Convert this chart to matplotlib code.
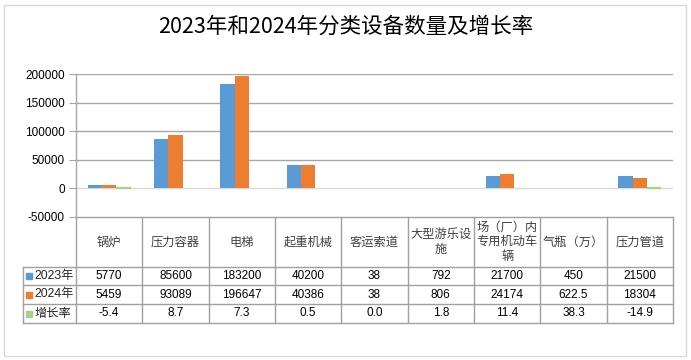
import matplotlib.pyplot as plt
import matplotlib.transforms as mtransforms
from matplotlib.patches import Rectangle
import numpy as np

categories = ["锅炉", "压力容器", "电梯", "起重机械", "客运索道",
              "大型游乐设\n施", "场（厂）内\n专用机动车\n辆", "气瓶（万）", "压力管道"]
v2023 = [5770, 85600, 183200, 40200, 38, 792, 21700, 450, 21500]
v2024 = [5459, 93089, 196647, 40386, 38, 806, 24174, 622.5, 18304]
growth = [-5.4, 8.7, 7.3, 0.5, 0.0, 1.8, 11.4, 38.3, -14.9]
txt2023 = ["5770", "85600", "183200", "40200", "38", "792", "21700", "450", "21500"]
txt2024 = ["5459", "93089", "196647", "40386", "38", "806", "24174", "622.5", "18304"]
txtgrowth = ["-5.4", "8.7", "7.3", "0.5", "0.0", "1.8", "11.4", "38.3", "-14.9"]
series_names = ["2023年", "2024年", "增长率"]
colors = ["#5B9BD5", "#ED7D31", "#A9D08E"]
yticks = [-50000, 0, 50000, 100000, 150000, 200000]

W, H = 691, 360
num_font = ["Liberation Sans", "Noto Sans CJK SC"]
cjk_font = ["Noto Sans CJK SC", "DejaVu Sans"]

fig = plt.figure(figsize=(W / 100, H / 100), dpi=100)
fig.patch.set_facecolor("white")

# outer border of the chart
fig.patches.append(Rectangle((4 / W, 4 / H), 682 / W, 351 / H, transform=fig.transFigure,
                             fill=False, edgecolor="#d9d9d9", linewidth=1))

# plot area in pixel coords
x_left, x_right = 76, 673
y_top, y_bot = 74.3, 216.7
ax = fig.add_axes([x_left / W, (H - y_bot) / H, (x_right - x_left) / W, (y_bot - y_top) / H])

n = len(categories)
x = np.arange(n)
bw = 0.216
ax.bar(x - bw, v2023, bw, color=colors[0], zorder=3, linewidth=0)
ax.bar(x, v2024, bw, color=colors[1], zorder=3, linewidth=0)
# growth is tiny on this scale, only the negative ones show as a thin line
ax.bar(x + bw, growth, bw, color=colors[2], zorder=3, linewidth=1.6,
       edgecolor=[colors[2] if g < 0 else "none" for g in growth])

ax.set_xlim(-0.5, n - 0.5)
ax.set_ylim(-50000, 200000)
ax.set_yticks(yticks)
ax.set_yticklabels([str(v) for v in yticks], fontfamily=num_font, fontsize=8.5)
ax.tick_params(axis="y", length=5, color="#a6a6a6", pad=3)
ax.set_xticks([])
for y in yticks[2:]:
    ax.axhline(y, color="#a6a6a6", linewidth=1, zorder=1)
ax.axhline(0, color="#d9d9d9", linewidth=1, zorder=2)
for s in ["top", "right", "bottom"]:
    ax.spines[s].set_visible(False)
ax.spines["left"].set_color("#a6a6a6")
ax.spines["left"].set_linewidth(1)

# data table below the plot
tr = mtransforms.blended_transform_factory(ax.transData, fig.transFigure)
def fy(p):
    return (H - p) / H

line_kw = dict(color="#a0a0a0", linewidth=1, transform=tr, clip_on=False)
rows = [216.7, 267, 285, 304, 323]
legend_left = -0.5 - (x_left - 22.7) / ((x_right - x_left) / n)

ax.plot([-0.5, n - 0.5], [fy(rows[0])] * 2, **line_kw)
for r in rows[1:]:
    ax.plot([legend_left, n - 0.5], [fy(r)] * 2, **line_kw)
for b in np.arange(n + 1) - 0.5:
    ax.plot([b, b], [fy(rows[0]), fy(rows[-1])], **line_kw)
ax.plot([legend_left, legend_left], [fy(rows[1]), fy(rows[-1])], **line_kw)

for i, lab in enumerate(categories):
    ax.text(i, fy(242), lab, transform=tr, ha="center", va="center", fontsize=8.8,
            fontfamily=cjk_font, color="#404040", linespacing=1.15)

row_texts = [txt2023, txt2024, txtgrowth]
for k in range(3):
    yc = fy((rows[k + 1] + rows[k + 2]) / 2)
    for i in range(n):
        ax.text(i, yc, row_texts[k][i], transform=tr, ha="center", va="center",
                fontsize=8.5, fontfamily=num_font, color="#000000")
    ax.plot([legend_left + 0.09], [yc], marker="s", markersize=4.5, color=colors[k],
            transform=tr, clip_on=False, linestyle="none")
    ax.text(legend_left + 0.18, yc, series_names[k], transform=tr, ha="left", va="center",
            fontsize=8.8, fontfamily=num_font if k < 2 else cjk_font, color="#262626")

fig.text(0.5, fy(27), "2023年和2024年分类设备数量及增长率", ha="center", va="center",
         fontsize=15.5, fontfamily=cjk_font, color="#000000")

fig.savefig("out.png", dpi=100)
